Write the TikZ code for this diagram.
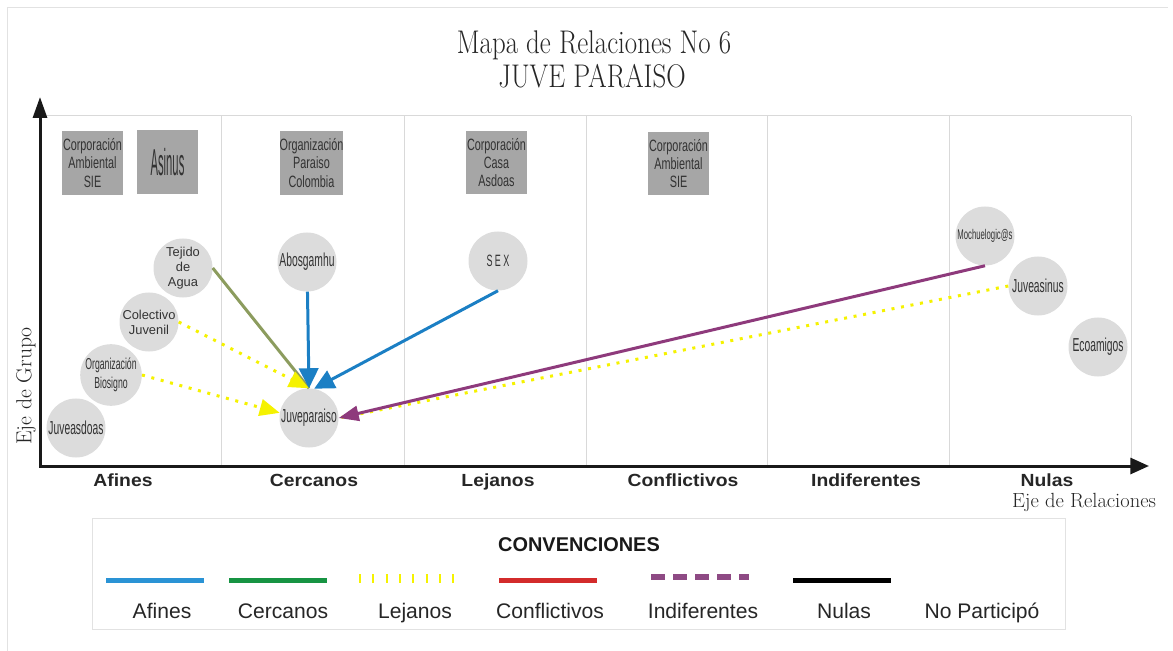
\documentclass[tikz,border=0pt]{standalone}
\usepackage{fontspec}
\usepackage{graphicx}
\setsansfont{Liberation Sans}
\newfontfamily\narrowfont[FakeStretch=0.55]{Liberation Sans}
\newfontfamily\boxfont[FakeStretch=0.66]{Liberation Sans}
\newfontfamily\asinusfont[FakeStretch=0.3]{Liberation Sans}
\newfontfamily\colfont[FakeStretch=1.1]{Liberation Sans}
\usetikzlibrary{arrows.meta}

\definecolor{gridgray}{HTML}{D9D9D9}
\definecolor{framegray}{HTML}{E2E2E2}
\definecolor{boxgray}{HTML}{A6A6A6}
\definecolor{circgray}{HTML}{DCDCDC}
\definecolor{textgray}{HTML}{333333}
\definecolor{relblue}{HTML}{1B7FC4}
\definecolor{relolive}{HTML}{8C9C5E}
\definecolor{relyellow}{HTML}{F5F200}
\definecolor{relpurple}{HTML}{8E3A7C}
\definecolor{legblue}{HTML}{2A93D5}
\definecolor{leggreen}{HTML}{179443}
\definecolor{legred}{HTML}{D32B2B}
\definecolor{legpurple}{HTML}{8E4A84}

\tikzset{
	grupo/.style={fill=boxgray, text=textgray, minimum width=1.83cm, minimum height=1.89cm, inner sep=0pt, align=center, font=\boxfont\fontsize{14}{15.6}\selectfont},
	org/.style={circle, fill=circgray, text=textgray, minimum size=1.77cm, inner sep=0pt, align=center, font=\narrowfont\fontsize{16}{17}\selectfont},
	columna/.style={text=black!85, text height=0.75em, text depth=0.2em, font=\colfont\bfseries\fontsize{15}{15}\selectfont},
	leyenda/.style={text=black!85, text height=0.75em, text depth=0.2em, font=\sffamily\fontsize{18}{18}\selectfont},
	rejilla/.style={draw=gridgray, line width=0.03cm},
	eje/.style={line width=0.09cm, black!90},
	afin/.style={relblue, line width=0.09cm, -{Triangle[length=0.6cm, width=0.58cm]}},
	cercano/.style={relolive, line width=0.09cm},
	lejano/.style={relyellow, line width=0.09cm, dash pattern=on 0.09cm off 0.2cm, -{Triangle[length=0.6cm, width=0.5cm]}},
	indiferente/.style={relpurple, line width=0.09cm, -{Triangle[length=0.6cm, width=0.45cm]}},
	muestra/.style={line width=0.15cm}
}

\begin{document}
\begin{tikzpicture}[x=0.03cm, y=-0.03cm]
		%%%%% START %%%%%
		\useasboundingbox (0,0) rectangle (1173,651);
		\draw[draw=framegray, line width=0.03cm] (7,651) -- (7,8) -- (1168,8);
		
		\node[text=black!85, font=\fontsize{28}{28}\selectfont] (titulo) at (594,45) {\scalebox{0.82}[1]{Mapa de Relaciones No 6}};
		\node[text=black!85, font=\fontsize{28}{28}\selectfont] (subtitulo) at (592,76) {\scalebox{0.82}[1]{JUVE PARAISO}};
		
		% rejilla
		\draw[rejilla] (40,116) -- (1131,116);
		\draw[rejilla] (221,116) -- (221,466);
		\draw[rejilla] (404,116) -- (404,466);
		\draw[rejilla] (586,116) -- (586,466);
		\draw[rejilla] (767,116) -- (767,466);
		\draw[rejilla] (949,116) -- (949,466);
		\draw[rejilla] (1131,116) -- (1131,466);
		
		% ejes
		\coordinate (ytop) at (40,97);
		\coordinate (xend) at (1149,466);
		\draw[eje, {Triangle[length=0.63cm, width=0.42cm]}-{Triangle[length=0.56cm, width=0.48cm]}] (ytop) |- (xend);
		\node[rotate=90, text=black!85, font=\fontsize{18.5}{18.5}\selectfont] (ejegrupo) at (26,386) {Eje de Grupo};
		\node[text=black!85, font=\fontsize{17.5}{17.5}\selectfont] (ejerel) at (1084,502) {Eje de Relaciones};
		
		\node[columna] (cafines) at (123,483) {Afines};
		\node[columna] (ccercanos) at (314,483) {Cercanos};
		\node[columna] (clejanos) at (498,483) {Lejanos};
		\node[columna] (cconflictivos) at (683,483) {Conflictivos};
		\node[columna] (cindiferentes) at (866,483) {Indiferentes};
		\node[columna] (cnulas) at (1047,483) {Nulas};
		
		% grupos
		\node[grupo] (sieA) at (92.5,163) {Corporación\\Ambiental\\SIE};
		\node[grupo, font=\asinusfont\fontsize{32}{32}\selectfont] (asinus) at (167.5,162) {Asinus};
		\node[grupo] (paraiso) at (311.5,163) {Organización\\Paraiso\\Colombia};
		\node[grupo] (casa) at (496.5,162.5) {Corporación\\Casa\\Asdoas};
		\node[grupo] (sieB) at (678.5,163.5) {Corporación\\Ambiental\\SIE};
		
		% organizaciones
		\node[org] (juveasdoas) at (76,428) {Juveasdoas};
		\node[org, font=\narrowfont\fontsize{13.5}{16.5}\selectfont] (biosigno) at (111,375) {Organización\\Biosigno};
		\node[org, font=\sffamily\fontsize{11}{12.8}\selectfont] (colectivo) at (149,322) {Colectivo\\Juvenil};
		\node[org, font=\sffamily\fontsize{11}{12.8}\selectfont] (tejido) at (183,268) {Tejido\\de\\Agua};
		\node[org] (abosgamhu) at (307,262) {Abosgamhu};
		\node[org] (juveparaiso) at (309,418) {Juveparaiso};
		\node[org, font=\narrowfont\fontsize{14}{14}\selectfont] (sex) at (498,261) {S\kern2pt E\kern2pt X};
		\node[org, font=\narrowfont\fontsize{12}{12}\selectfont] (mochuelo) at (985,236) {Mochuelogic@s};
		\node[org] (juveasinus) at (1038,286) {Juveasinus};
		\node[org] (ecoamigos) at (1098,347) {Ecoamigos};
		
		% relaciones
		\draw[cercano] (tejido.east) -- (juveparaiso.north);
		\draw[lejano] (colectivo.east) -- (juveparaiso.north);
		\draw[lejano] (biosigno.east) -- (juveparaiso.170);
		\draw[lejano, arrows=-] (juveasinus.west) -- (juveparaiso.east);
		\draw[afin] (abosgamhu) -- (juveparaiso.north);
		\draw[afin] (sex.south) -- (juveparaiso.80);
		\draw[indiferente] (mochuelo.south) -- (juveparaiso.east);
		
		% convenciones
		\draw[draw=framegray, line width=0.03cm] (92,518) rectangle (1065,629);
		\node[text=black!90, font=\sffamily\bfseries\fontsize{17}{17}\selectfont] (convenciones) at (579,545) {CONVENCIONES};
		\draw[muestra, legblue] (106,580) -- (204,580);
		\draw[muestra, leggreen] (229,580) -- (327,580);
		\draw[relyellow, line width=0.27cm, dash pattern=on 0.06cm off 0.34cm] (359,578) -- (454,578);
		\draw[muestra, legred] (499,580) -- (597,580);
		\draw[legpurple, line width=0.18cm, dash pattern=on 0.42cm off 0.24cm] (651,577) -- (749,577);
		\draw[muestra, black] (793,580) -- (891,580);
		\node[leyenda] (lafines) at (162,615) {Afines};
		\node[leyenda] (lcercanos) at (283,615) {Cercanos};
		\node[leyenda] (llejanos) at (415,615) {Lejanos};
		\node[leyenda] (lconflictivos) at (550,615) {Conflictivos};
		\node[leyenda] (lindiferentes) at (703,615) {Indiferentes};
		\node[leyenda] (lnulas) at (844,615) {Nulas};
		\node[leyenda] (lnoparticipo) at (982,615) {No Participó};
		%%%%% END %%%%%
	\end{tikzpicture}
\end{document}
